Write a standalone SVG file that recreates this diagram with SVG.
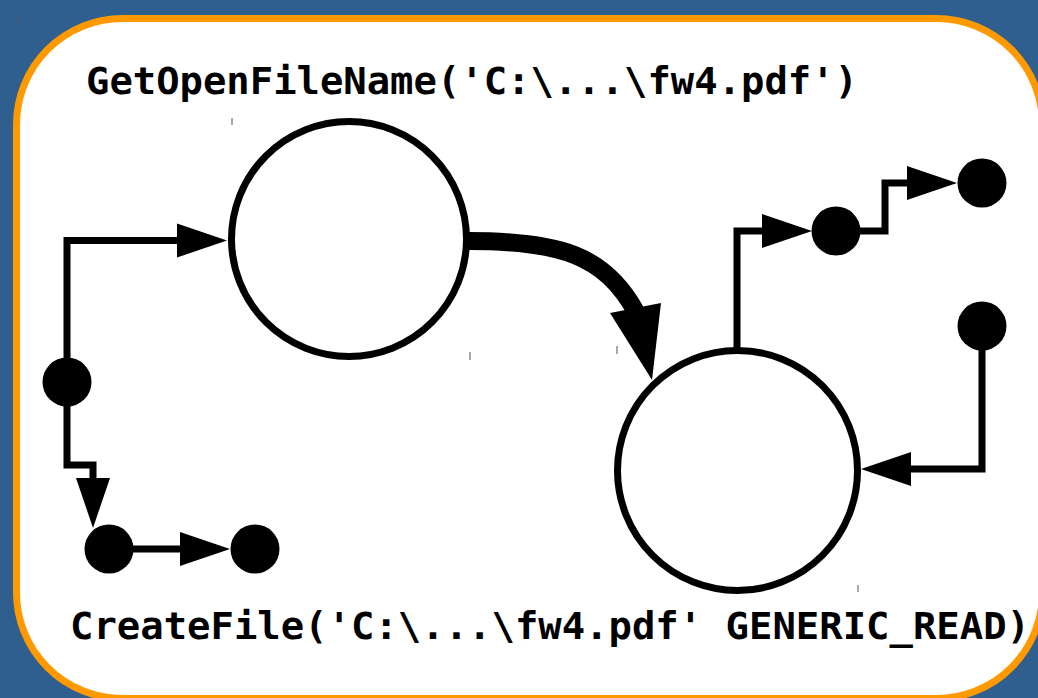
<svg xmlns="http://www.w3.org/2000/svg" width="1038" height="698" viewBox="0 0 1038 698">
  <style>
    .panel { fill: #ffffff; stroke: #ff9900; stroke-width: 7; }
    .state { fill: #ffffff; stroke: #000000; stroke-width: 7; }
    .dot { fill: #000000; }
    .wire { fill: none; stroke: #000000; stroke-width: 7; stroke-linejoin: miter; }
    .flow { fill: none; stroke: #000000; stroke-width: 18; }
    .label { font-family: "DejaVu Sans Mono", "Liberation Mono", monospace; font-weight: bold; font-size: 37px; fill: #000000; }
    .tick { stroke: #555555; stroke-width: 1; }
  </style>
  <defs>
    <marker id="head" markerUnits="userSpaceOnUse" markerWidth="52" markerHeight="36" viewBox="0 -18 52 36" refX="0" refY="0" orient="auto">
      <path d="M0,-17 L50,0 L0,17 Z" fill="#000000"/>
    </marker>
  </defs>

  <!-- backdrop and rounded panel -->
  <rect x="0" y="0" width="1038" height="698" fill="#2f5f8f"/>
  <rect class="panel" x="16.5" y="18.5" width="1026" height="680" rx="106" ry="106"/>

  <!-- guide ticks -->
  <g id="ticks">
    <line class="tick" x1="17" y1="17" x2="17" y2="23"/>
    <line class="tick" x1="232" y1="118" x2="232" y2="125"/>
    <line class="tick" x1="470" y1="352" x2="470" y2="360"/>
    <line class="tick" x1="617" y1="346" x2="617" y2="354"/>
    <line class="tick" x1="858" y1="585" x2="858" y2="592"/>
  </g>

  <!-- connectors -->
  <g id="connectors">
    <path class="wire" d="M67,382 V240.5 H177" marker-end="url(#head)"/>
    <path class="wire" d="M67,382 V465 H93 V478" marker-end="url(#head)"/>
    <path class="wire" d="M109,549 H180" marker-end="url(#head)"/>
    <path class="wire" d="M737,350 V231 H762" marker-end="url(#head)"/>
    <path class="wire" d="M836,231 H885 V183 H907" marker-end="url(#head)"/>
    <path class="wire" d="M982,326 V469 H911" marker-end="url(#head)"/>
    <path class="flow" d="M468,241 C560,241 605,255 636,312"/>
    <polygon points="610,313 661,303 652,380" fill="#000000"/>
  </g>

  <!-- nodes -->
  <g id="node-open">
    <circle class="state" cx="349" cy="239" r="117.5"/>
  </g>
  <g id="node-create">
    <circle class="state" cx="737.5" cy="470.5" r="120"/>
  </g>
  <g id="dot-a"><circle class="dot" cx="67" cy="382" r="24.5"/></g>
  <g id="dot-b"><circle class="dot" cx="109" cy="549" r="24.5"/></g>
  <g id="dot-c"><circle class="dot" cx="255" cy="549" r="24.5"/></g>
  <g id="dot-d"><circle class="dot" cx="836" cy="231" r="24.5"/></g>
  <g id="dot-e"><circle class="dot" cx="982" cy="183" r="24.5"/></g>
  <g id="dot-f"><circle class="dot" cx="982" cy="326" r="24.5"/></g>

  <!-- call labels -->
  <g id="label-open">
    <text class="label" x="86" y="94" textLength="772" lengthAdjust="spacingAndGlyphs">GetOpenFileName('C:\...\fw4.pdf')</text>
  </g>
  <g id="label-create">
    <text class="label" x="70" y="639" textLength="960" lengthAdjust="spacingAndGlyphs">CreateFile('C:\...\fw4.pdf' GENERIC_READ)</text>
  </g>
</svg>
